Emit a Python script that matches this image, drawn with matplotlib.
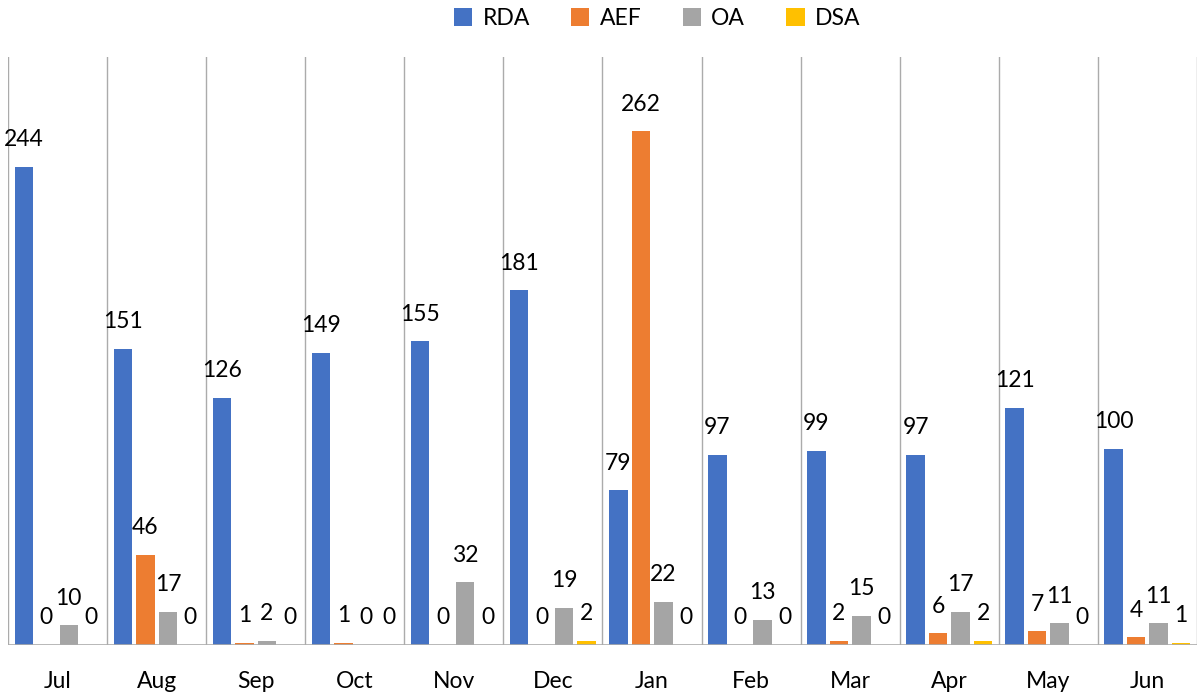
import matplotlib
matplotlib.use("Agg")
import matplotlib.pyplot as plt
import numpy as np

months = ["Jul", "Aug", "Sep", "Oct", "Nov", "Dec", "Jan", "Feb", "Mar", "Apr", "May", "Jun"]
series_names = ["RDA", "AEF", "OA", "DSA"]
rda = [244, 151, 126, 149, 155, 181, 79, 97, 99, 97, 121, 100]
aef = [0, 46, 1, 1, 0, 0, 262, 0, 2, 6, 7, 4]
oa = [10, 17, 2, 0, 32, 19, 22, 13, 15, 17, 11, 11]
dsa = [0, 0, 0, 0, 0, 2, 0, 0, 0, 2, 0, 1]
colors = ["#4472C4", "#ED7D31", "#A5A5A5", "#FFC000"]

plt.rcParams['font.family'] = ['Lato', 'DejaVu Sans']

fig = plt.figure(figsize=(11.97, 6.96), dpi=100)
ax = fig.add_axes([8 / 1197, 51 / 696, 1189 / 1197, 588 / 696])

x = np.arange(len(months))
step = 0.227
width = 0.187
all_series = [rda, aef, oa, dsa]
for i, (name, vals, c) in enumerate(zip(series_names, all_series, colors)):
    pos = x + (i - 1.5) * step
    ax.bar(pos, vals, width=width, color=c, label=name, zorder=3)
    for xp, v in zip(pos, vals):
        ax.annotate(str(v), (xp, v), xytext=(0, 19.5), textcoords="offset points",
                    ha="center", va="center", fontsize=16.5, color="#000000")

ax.set_xlim(-0.5, len(months) - 0.5)
ax.set_ylim(0, 300)
for b in np.arange(len(months) + 1) - 0.5:
    ax.axvline(b, color="#ABABAB", lw=1.0, zorder=1)
ax.axhline(0, color="#ABABAB", lw=1.2, zorder=4)

for s in ax.spines.values():
    s.set_visible(False)
ax.set_yticks([])
ax.set_xticks(x)
ax.set_xticklabels(months, fontsize=16.5)
ax.tick_params(axis="x", length=0, pad=19)

fig.legend(loc="upper center", bbox_to_anchor=(0.549, 1.018), ncol=4, frameon=False,
           fontsize=16.5, handlelength=0.8, handleheight=0.8, handletextpad=0.45,
           columnspacing=1.8)

fig.savefig("out.png", dpi=100)
